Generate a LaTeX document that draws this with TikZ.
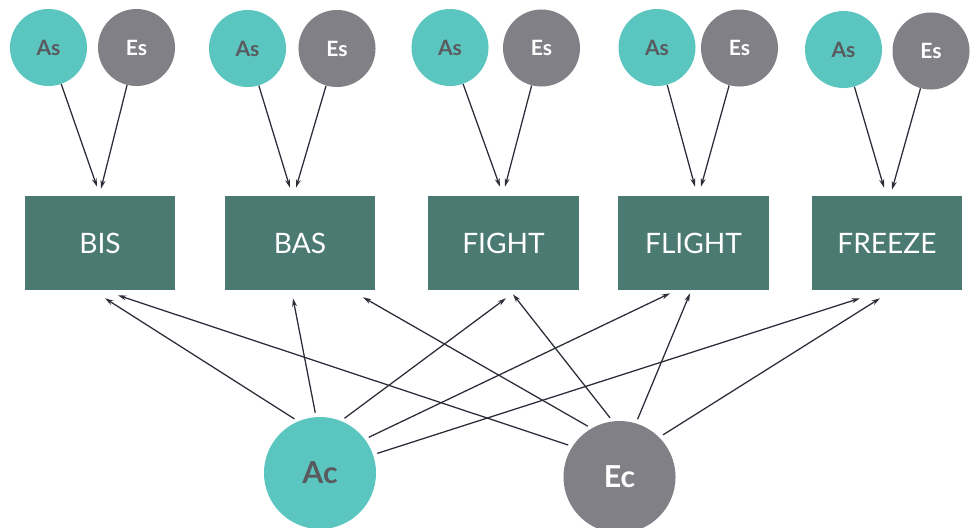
\documentclass[tikz,border=0pt]{standalone}
\usepackage{fontspec}
\setmainfont{Lato}
\usetikzlibrary{arrows.meta}

\definecolor{tealc}{HTML}{5BC6C0}
\definecolor{grayc}{HTML}{808086}
\definecolor{boxc}{HTML}{4A7A72}
\definecolor{darkt}{HTML}{5A5A5E}
\definecolor{linec}{HTML}{2A2C38}

\begin{document}
\begin{tikzpicture}[x=0.025cm,y=-0.025cm,
  small/.style={circle,minimum size=1.925cm,inner sep=0pt,font=\fontsize{15pt}{17pt}\selectfont\bfseries},
  big/.style={circle,minimum size=2.8cm,inner sep=0pt,font=\fontsize{21.5pt}{24pt}\selectfont\bfseries},
  asfill/.style={fill=tealc,text=darkt},
  esfill/.style={fill=grayc,text=white},
  statebox/.style={rectangle,fill=boxc,text=white,minimum width=3.75cm,minimum height=2.35cm,inner sep=0pt,font=\fontsize{20pt}{23pt}\selectfont},
  arr/.style={draw=linec,line width=0.9pt,-{Stealth[length=6pt,width=3.5pt]}}]
  \useasboundingbox (0,0) rectangle (971,527);

  % situations
  \node [small,asfill] (as1) at (48.5,47.5) {As};
  \node [small,esfill] (es1) at (136.5,47.5) {Es};
  \node [small,asfill] (as2) at (247.5,48.5) {As};
  \node [small,esfill] (es2) at (337,48.5) {Es};
  \node [small,asfill] (as3) at (450,47.5) {As};
  \node [small,esfill] (es3) at (541.5,48) {Es};
  \node [small,asfill] (as4) at (657,47.5) {As};
  \node [small,esfill] (es4) at (739.5,48) {Es};
  \node [small,asfill] (as5) at (843.5,49.5) {As};
  \node [small,esfill] (es5) at (931,51) {Es};

  % systems
  \node [statebox] (bis) at (100,243) {BIS};
  \node [statebox] (bas) at (300,243) {BAS};
  \node [statebox] (fight) at (503.5,243) {FIGHT};
  \node [statebox] (flight) at (693.5,243) {FLIGHT};
  \node [statebox] (freeze) at (887,243) {FREEZE};

  % characteristics
  \node [big,asfill] (ac) at (320,473) {Ac};
  \node [big,esfill] (ec) at (619.5,477) {Ec};

  \draw [arr] (as1) -- ([shift={(-3,-9)}]bis.north);
  \draw [arr] (es1) -- ([shift={(1,-7)}]bis.north);
  \draw [arr] (as2) -- ([shift={(-10,-8)}]bas.north);
  \draw [arr] (es2) -- ([shift={(-4,-8)}]bas.north);
  \draw [arr] (as3) -- ([shift={(-3.5,-9)}]fight.north);
  \draw [arr] (es3) -- ([shift={(1.5,-9)}]fight.north);
  \draw [arr] (as4) -- ([shift={(1.5,-9)}]flight.north);
  \draw [arr] (es4) -- ([shift={(7.5,-9)}]flight.north);
  \draw [arr] (as5) -- ([shift={(-3,-8)}]freeze.north);
  \draw [arr] (es5) -- ([shift={(5,-6)}]freeze.north);

  \draw [arr,shorten <=3pt] (ac.113) -- ([shift={(5,8)}]bis.south);
  \draw [arr,shorten <=3pt] (ac.94) -- ([shift={(-7,8)}]bas.south);
  \draw [arr,shorten <=3pt] (ac.68) -- ([shift={(2.5,8)}]fight.south);
  \draw [arr,shorten <=3pt] (ac.37) -- ([shift={(-23.5,3)}]flight.south);
  \draw [arr,shorten <=3pt] (ac.19) -- ([shift={(-27,8)}]freeze.south);

  \draw [arr,shorten <=3pt] (ec.147) -- ([shift={(18,5)}]bis.south);
  \draw [arr,shorten <=3pt] (ec.120) -- ([shift={(63,7)}]bas.south);
  \draw [arr,shorten <=3pt] (ec.97) -- ([shift={(9.5,4)}]fight.south);
  \draw [arr,shorten <=3pt] (ec.73) -- ([shift={(-3.5,3)}]flight.south);
  \draw [arr,shorten <=3pt] (ec.45) -- ([shift={(-7,8)}]freeze.south);
\end{tikzpicture}
\end{document}
